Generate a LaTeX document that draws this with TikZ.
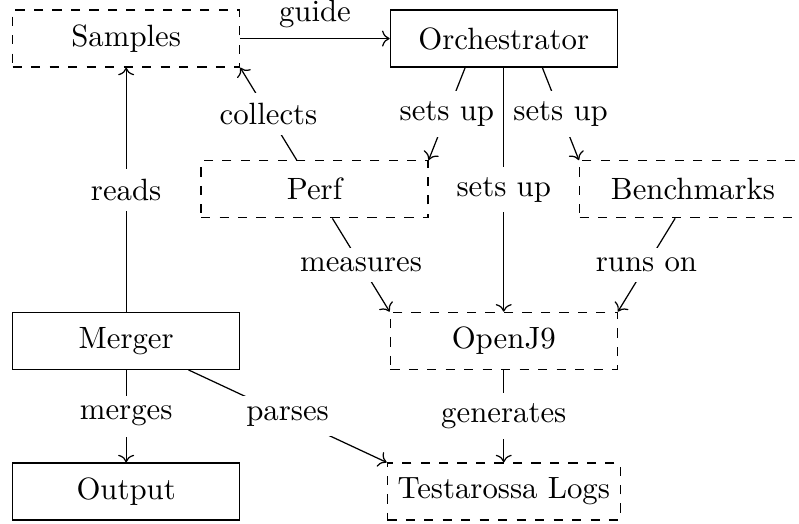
\documentclass[tikz,border=0pt]{standalone}
\usepackage{tikz}
\usetikzlibrary{arrows.meta, positioning}

\begin{document}
\begin{tikzpicture}[
    component/.style={draw, minimum width=2.59cm, minimum height=0.65cm, align=center},
    external/.style={component, dashed},
    link/.style={->},
    tag/.style={fill=white},
]
  \useasboundingbox (0,0) rectangle (9.12,-5.97);

  \node[external] (samples) at (1.44, -0.44) {Samples};
  \node[component] (orch) at (5.75, -0.44) {Orchestrator};
  \node[external] (perf) at (3.59, -2.16) {Perf};
  \node[external] (bench) at (7.91, -2.16) {Benchmarks};
  \node[component] (merger) at (1.44, -3.89) {Merger};
  \node[external] (openj9) at (5.75, -3.89) {OpenJ9};
  \node[component] (output) at (1.44, -5.61) {Output};
  \node[external] (logs) at (5.75, -5.61) {Testarossa Logs};

  % Orchestration
  \draw[link] (samples) -- node[above] {guide} (orch);
  \draw[link] (orch.217) -- node[tag] {sets up} (perf.north east);
  \draw[link] (orch.323) -- node[tag] {sets up} (bench.north west);
  \draw[link] (orch) -- node[tag] {sets up} (openj9);

  % Measurement
  \draw[link] (perf) -- node[tag] {collects} (samples.south east);
  \draw[link] (perf) -- node[tag] {measures} (openj9.north west);
  \draw[link] (bench) -- node[tag] {runs on} (openj9.north east);
  \draw[link] (openj9) -- node[tag] {generates} (logs);

  % Post-processing
  \draw[link] (merger) -- node[tag] {reads} (samples);
  \draw[link] (merger) -- node[tag] {merges} (output);
  \draw[link] (merger) -- node[tag] {parses} (logs.north west);
\end{tikzpicture}
\end{document}
